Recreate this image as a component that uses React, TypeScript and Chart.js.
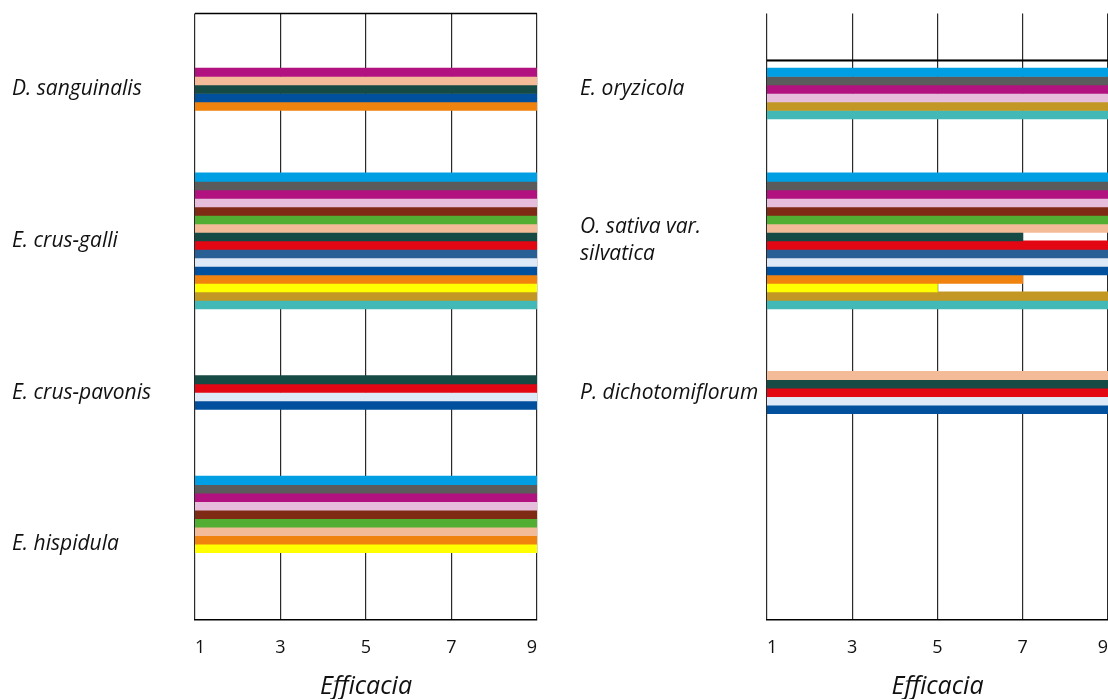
import React, { useEffect, useRef } from 'react';
import { Chart, registerables } from 'chart.js';

Chart.register(...registerables);

// ---------- DATA ----------
const palette: Record<string, string> = {
  cyan: '#009FE3',
  gray: '#5B5B5B',
  magenta: '#B1127F',
  pink: '#E6BEDB',
  brown: '#7F2A14',
  green: '#52AE32',
  peach: '#F4BB98',
  darkTeal: '#164A45',
  red: '#E30613',
  steelBlue: '#285F94',
  paleBlue: '#DEE9F7',
  blue: '#00509E',
  orange: '#F0830E',
  yellow: '#FFFF00',
  gold: '#C39723',
  teal: '#43B9B7',
};

const xTicks = [1, 3, 5, 7, 9];
const axisTitle = 'Efficacia';

const leftCategories: (string | string[])[] = ['D. sanguinalis', 'E. crus-galli', 'E. crus-pavonis', 'E. hispidula'];
const rightCategories: (string | string[])[] = ['E. oryzicola', ['O. sativa var.', 'silvatica'], 'P. dichotomiflorum', ''];

const sanguinalisProducts = ['magenta', 'peach', 'darkTeal', 'blue', 'orange'];
const sanguinalisValues = [9, 9, 9, 9, 9];

const crusGalliProducts = ['cyan', 'gray', 'magenta', 'pink', 'brown', 'green', 'peach', 'darkTeal', 'red', 'steelBlue', 'paleBlue', 'blue', 'orange', 'yellow', 'gold', 'teal'];
const crusGalliValues = [9, 9, 9, 9, 9, 9, 9, 9, 9, 9, 9, 9, 9, 9, 9, 9];

const crusPavonisProducts = ['darkTeal', 'red', 'paleBlue', 'blue'];
const crusPavonisValues = [9, 9, 9, 9];

const hispidulaProducts = ['cyan', 'gray', 'magenta', 'pink', 'brown', 'green', 'peach', 'orange', 'yellow', 'darkTeal', 'red', 'steelBlue', 'paleBlue', 'blue', 'gold', 'teal'];
const hispidulaValues = [9, 9, 9, 9, 9, 9, 9, 9, 9, 1, 1, 1, 1, 1, 1, 1];

const oryzicolaProducts = ['rule', 'cyan', 'gray', 'magenta', 'pink', 'gold', 'teal'];
const oryzicolaValues = [9, 9, 9, 9, 9, 9, 9];

const sativaProducts = ['cyan', 'gray', 'magenta', 'pink', 'brown', 'green', 'peach', 'darkTeal', 'red', 'steelBlue', 'paleBlue', 'blue', 'orange', 'yellow', 'gold', 'teal'];
const sativaValues = [9, 9, 9, 9, 9, 9, 9, 7, 9, 9, 9, 9, 7, 5, 9, 9];

const dichotomiflorumProducts = ['peach', 'darkTeal', 'red', 'paleBlue', 'blue'];
const dichotomiflorumValues = [9, 9, 9, 9, 9];

const emptyProducts: string[] = [];
const emptyValues: number[] = [];

// ---------- HELPERS ----------
type Group = { products: string[]; values: number[] };

const leftGroups: Group[] = [
  { products: sanguinalisProducts, values: sanguinalisValues },
  { products: crusGalliProducts, values: crusGalliValues },
  { products: crusPavonisProducts, values: crusPavonisValues },
  { products: hispidulaProducts, values: hispidulaValues },
];
const rightGroups: Group[] = [
  { products: oryzicolaProducts, values: oryzicolaValues },
  { products: sativaProducts, values: sativaValues },
  { products: dichotomiflorumProducts, values: dichotomiflorumValues },
  { products: emptyProducts, values: emptyValues },
];

const X_MIN = xTicks[0];
const X_MAX = xTicks[xTicks.length - 1];

function buildDatasets(groups: Group[]) {
  const slots = Math.max(...groups.map((g) => g.products.length));
  return Array.from({ length: slots }, (_, s) => ({
    label: `slot ${s + 1}`,
    data: groups.map((g) => (s < g.values.length ? g.values[s] : null)),
    backgroundColor: (ctx: any) => {
      const g = groups[ctx.dataIndex];
      const p = g?.products[s];
      const v = g?.values[s];
      if (v === undefined || v <= X_MIN) return 'rgba(0,0,0,0)';
      return p && palette[p] ? palette[p] : 'rgba(0,0,0,0)';
    },
    borderColor: '#000',
    borderWidth: (ctx: any) => {
      const p = groups[ctx.dataIndex]?.products[s];
      return p === 'rule' ? { top: 1.6, bottom: 0, left: 0, right: 0 } : 0;
    },
    borderSkipped: false,
    barThickness: 8.5,
  }));
}

const FAMILY = '"Open Sans", "Noto Sans", sans-serif';
const labelFont = { family: FAMILY, size: 21, style: 'italic' as const, lineHeight: 1.28 };
const tickFont = { family: FAMILY, size: 18 };
const titleFont = { family: FAMILY, size: 25, style: 'italic' as const, lineHeight: 1 };

const topFramePlugin = {
  id: 'topFrame',
  afterDatasetsDraw(chart: any) {
    const { ctx, chartArea } = chart;
    ctx.save();
    ctx.strokeStyle = '#000';
    ctx.lineWidth = 1.5;
    ctx.beginPath();
    ctx.moveTo(chartArea.left, chartArea.top);
    ctx.lineTo(chartArea.right, chartArea.top);
    ctx.stroke();
    ctx.restore();
  },
};

function makeConfig(categories: (string | string[])[], groups: Group[], yWidth: number, frameTop: boolean): any {
  return {
    type: 'bar',
    data: { labels: categories, datasets: buildDatasets(groups) },
    plugins: frameTop ? [topFramePlugin] : [],
    options: {
      indexAxis: 'y',
      animation: false,
      responsive: true,
      maintainAspectRatio: false,
      skipNull: true,
      layout: { padding: { left: 12, top: 13, right: 10, bottom: 0 } },
      plugins: { legend: { display: false }, tooltip: { enabled: false } },
      scales: {
        x: {
          type: 'linear',
          min: X_MIN,
          max: X_MAX,
          afterBuildTicks: (scale: any) => {
            scale.ticks = xTicks.map((v) => ({ value: v }));
          },
          afterFit: (scale: any) => {
            scale.height = 79;
          },
          grid: { color: '#2a2a2a', lineWidth: 1.2, drawTicks: false },
          border: { display: true, color: '#000', width: 1.5 },
          ticks: { font: tickFont, color: '#111', padding: 17, maxRotation: 0, align: 'inner' },
          title: { display: true, text: axisTitle, font: titleFont, color: '#111', padding: { top: 0, bottom: 0 } },
        },
        y: {
          type: 'category',
          offset: true,
          grid: { display: false },
          border: { display: false },
          afterFit: (scale: any) => {
            scale.width = yWidth;
          },
          ticks: { font: labelFont, color: '#111', crossAlign: 'far', padding: 0 },
        },
      },
    },
  };
}

export default function App() {
  const leftRef = useRef<HTMLCanvasElement | null>(null);
  const rightRef = useRef<HTMLCanvasElement | null>(null);

  useEffect(() => {
    if (!leftRef.current || !rightRef.current) return;
    const left = new Chart(leftRef.current, makeConfig(leftCategories, leftGroups, 183, true));
    const right = new Chart(rightRef.current, makeConfig(rightCategories, rightGroups, 187, false));
    return () => {
      left.destroy();
      right.destroy();
    };
  }, []);

  return (
    <div style={{ position: 'fixed', left: 0, top: 0, width: 1108, height: 699, overflow: 'hidden', background: '#fff' }}>
      <div style={{ position: 'absolute', left: 0, top: 0, width: 554, height: 699 }}>
        <canvas ref={leftRef} />
      </div>
      <div style={{ position: 'absolute', left: 568, top: 0, width: 557, height: 699 }}>
        <canvas ref={rightRef} />
      </div>
    </div>
  );
}
